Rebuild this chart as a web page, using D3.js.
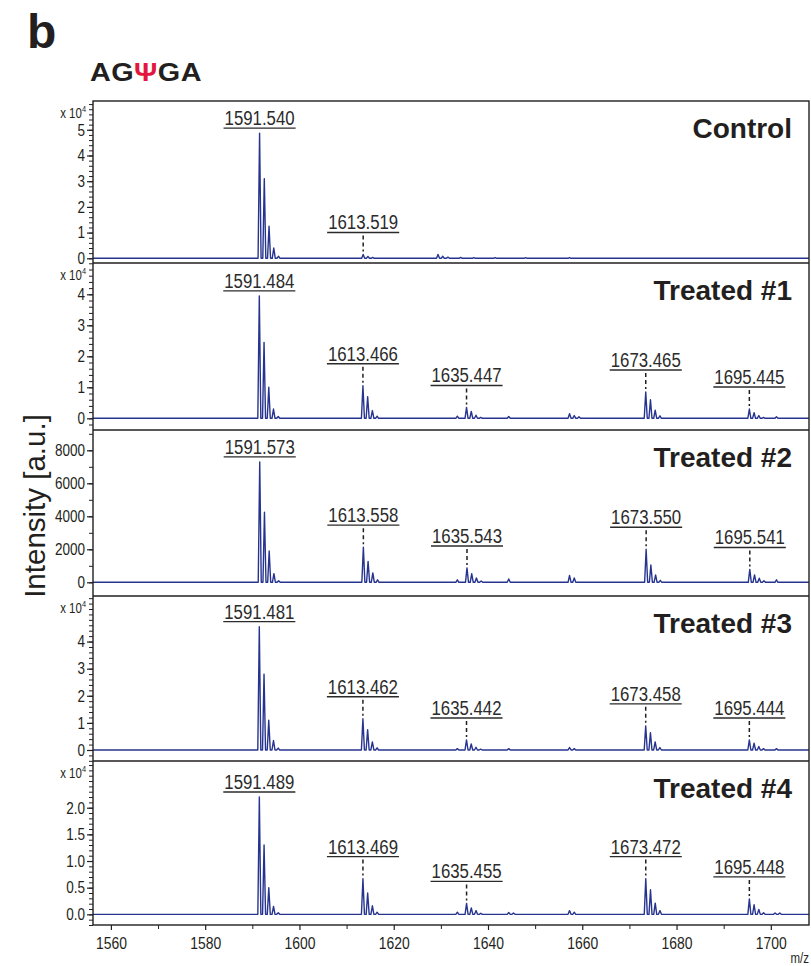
<!DOCTYPE html>
<html>
<head>
<meta charset="utf-8">
<script src="https://cdn.jsdelivr.net/npm/d3@7"></script>
<style>
  html, body { margin: 0; padding: 0; background: #fff; }
  svg { display: block; }
  .narrow, .sans { font-family: "Liberation Sans", Arial, sans-serif; }
</style>
</head>
<body>
<svg id="chart" width="811" height="966"></svg>
<script>
// ---------------- data ----------------
const sampleNames = ["Control", "Treated #1", "Treated #2", "Treated #3", "Treated #4"];

// labelled isotope clusters: [monoisotopic m/z, intensities of the isotope peaks]
const controlClusters = [
  [1591.540, [48700, 31000, 12500, 4000, 800]],
  [1613.519, [1500, 750, 350]]
];
const treated1Clusters = [
  [1591.484, [39500, 24500, 10000, 3000, 600]],
  [1613.466, [10500, 7000, 2500, 700]],
  [1635.447, [3500, 2200, 1000, 300]],
  [1673.465, [8500, 6000, 2600, 800]],
  [1695.445, [3000, 1800, 900, 300]]
];
const treated2Clusters = [
  [1591.573, [7300, 4250, 1900, 520, 100]],
  [1613.558, [2130, 1270, 570, 150]],
  [1635.543, [870, 525, 260, 80]],
  [1673.550, [2000, 1050, 450, 120]],
  [1695.541, [780, 450, 250, 100]]
];
const treated3Clusters = [
  [1591.481, [45500, 28000, 11000, 3500, 700]],
  [1613.462, [11500, 7500, 3000, 800]],
  [1635.442, [3700, 2200, 1000, 300]],
  [1673.458, [8900, 6400, 3000, 900]],
  [1695.444, [3700, 2500, 1300, 500]]
];
const treated4Clusters = [
  [1591.489, [22000, 13000, 5000, 1500, 300]],
  [1613.469, [6700, 4000, 1600, 400]],
  [1635.455, [2050, 1200, 700, 200]],
  [1673.472, [6700, 4600, 2100, 700]],
  [1695.448, [2900, 1800, 900, 300]]
];

// small unlabelled signals: [m/z, intensity]
const controlMinor = [[1629.4, 1500], [1630.4, 800], [1631.5, 450], [1634.2, 350], [1637.0, 300], [1641.5, 300], [1648.0, 250], [1657.3, 300]];
const treated1Minor = [[1633.5, 700], [1644.4, 600], [1657.3, 1500], [1658.3, 900], [1659.3, 500], [1701.2, 500]];
const treated2Minor = [[1633.5, 150], [1644.4, 200], [1657.3, 420], [1658.3, 260], [1701.2, 150]];
const treated3Minor = [[1633.5, 500], [1644.4, 500], [1657.3, 900], [1658.3, 500], [1701.2, 500]];
const treated4Minor = [[1633.5, 400], [1644.4, 350], [1645.4, 250], [1657.3, 700], [1658.3, 400], [1700.9, 250], [1701.9, 250]];

// axis ranges and ticks
const mzDomain = [1556.2, 1708.1];
const mzTicks = [1560, 1580, 1600, 1620, 1640, 1660, 1680, 1700];
const mzMinorTicks = [1570, 1590, 1610, 1630, 1650, 1670, 1690];

const yDomainControl = [-1830, 61200];
const yDomainTreated1 = [-3770, 50100];
const yDomainTreated2 = [-830, 9230];
const yDomainTreated3 = [-4060, 56800];
const yDomainTreated4 = [-2000, 28760];

const yTicksControl = [0, 10000, 20000, 30000, 40000, 50000];
const yTicksTreated1 = [0, 10000, 20000, 30000, 40000];
const yTicksTreated2 = [0, 2000, 4000, 6000, 8000];
const yTicksTreated3 = [0, 10000, 20000, 30000, 40000];
const yTicksTreated4 = [0, 5000, 10000, 15000, 20000];

const yMinorStep = [2000, 2000, 1000, 2000, 1000];
const yTickLabelStyle = ["e4", "e4", "raw", "e4", "e4dec"];

// ---------------- drawing ----------------
const panels = [
  { name: sampleNames[0], clusters: controlClusters, minor: controlMinor, domain: yDomainControl, ticks: yTicksControl },
  { name: sampleNames[1], clusters: treated1Clusters, minor: treated1Minor, domain: yDomainTreated1, ticks: yTicksTreated1 },
  { name: sampleNames[2], clusters: treated2Clusters, minor: treated2Minor, domain: yDomainTreated2, ticks: yTicksTreated2 },
  { name: sampleNames[3], clusters: treated3Clusters, minor: treated3Minor, domain: yDomainTreated3, ticks: yTicksTreated3 },
  { name: sampleNames[4], clusters: treated4Clusters, minor: treated4Minor, domain: yDomainTreated4, ticks: yTicksTreated4 }
];

const svg = d3.select("#chart");
const ink = "#231f20";
const traceColor = "#27348f";
const frameLeft = 93, frameRight = 809;
const panelEdges = [101, 263, 430, 596, 761, 925];
const isotopeSpacing = 1.003;
const peakHalfWidth = 0.32;
const squeeze = 0.82;   // horizontal compression for the narrow numeric labels

// compress text horizontally about its own x anchor
function condense(sel) {
  sel.each(function () {
    const t = d3.select(this);
    const ax = +t.attr("x") || 0;
    t.attr("transform", `translate(${ax},0) scale(${squeeze},1) translate(${-ax},0)`);
  });
}

const x = d3.scaleLinear().domain(mzDomain).range([frameLeft, frameRight]);

// header
svg.append("text").attr("class", "sans")
  .attr("x", 27).attr("y", 48)
  .attr("font-size", 48).attr("font-weight", "bold").attr("fill", ink)
  .text("b");

// sequence name, set in a slightly extended bold face
const seq = svg.append("text").attr("class", "sans")
  .attr("transform", "translate(90,81) scale(1.13,1)")
  .attr("font-size", 25.5).attr("font-weight", "bold").attr("fill", ink)
  .attr("letter-spacing", 0.4);
seq.append("tspan").text("AG");
seq.append("tspan").attr("fill", "#e3173e").text("\u03A8");
seq.append("tspan").text("GA");

// y axis title
svg.append("text").attr("class", "sans")
  .attr("transform", "translate(45,506) rotate(-90)")
  .attr("text-anchor", "middle")
  .attr("font-size", 29.5).attr("fill", ink)
  .text("Intensity [a.u.]");

const defs = svg.append("defs");

panels.forEach((p, i) => {
  const top = panelEdges[i], bottom = panelEdges[i + 1];
  const y = d3.scaleLinear().domain(p.domain).range([bottom, top]);
  const g = svg.append("g");

  defs.append("clipPath").attr("id", "clip" + i)
    .append("rect")
    .attr("x", frameLeft).attr("y", top)
    .attr("width", frameRight - frameLeft).attr("height", bottom - top);

  // stick list -> spectrum trace
  const sticks = [];
  p.clusters.forEach(([mono, hs]) => {
    hs.forEach((h, k) => sticks.push([mono + k * isotopeSpacing, h]));
  });
  p.minor.forEach(d => sticks.push(d));
  sticks.sort((a, b) => a[0] - b[0]);
  const pts = [[mzDomain[0], 0]];
  sticks.forEach(([m, h]) => {
    pts.push([m - peakHalfWidth, 0], [m, h], [m + peakHalfWidth, 0]);
  });
  pts.push([mzDomain[1], 0]);

  const line = d3.line().x(d => x(d[0])).y(d => y(d[1]));
  g.append("path")
    .attr("clip-path", "url(#clip" + i + ")")
    .attr("d", line(pts))
    .attr("fill", "none")
    .attr("stroke", traceColor)
    .attr("stroke-width", 1.4)
    .attr("stroke-linejoin", "round");

  // y axis: major and minor ticks
  const style = yTickLabelStyle[i];
  const fmt = style === "raw" ? (v => d3.format("d")(v))
    : style === "e4dec" ? (v => d3.format(".1f")(v / 1e4))
    : (v => d3.format("d")(v / 1e4));
  const minorVals = d3.range(Math.ceil(p.domain[0] / yMinorStep[i]) * yMinorStep[i], p.domain[1], yMinorStep[i]);

  const minorAxis = g.append("g").attr("transform", `translate(${frameLeft},0)`)
    .call(d3.axisLeft(y).tickValues(minorVals).tickSize(4).tickSizeOuter(0).tickFormat(""));
  minorAxis.select(".domain").remove();
  minorAxis.selectAll("line").attr("stroke", ink).attr("stroke-width", 1);

  const majorAxis = g.append("g").attr("transform", `translate(${frameLeft},0)`)
    .call(d3.axisLeft(y).tickValues(p.ticks).tickSize(6).tickPadding(2).tickSizeOuter(0).tickFormat(fmt));
  majorAxis.select(".domain").remove();
  majorAxis.selectAll("line").attr("stroke", ink).attr("stroke-width", 1.2);
  majorAxis.selectAll("text")
    .attr("class", "narrow")
    .attr("font-size", 16.5)
    .attr("fill", ink)
    .call(condense);

  // exponent marker
  if (style !== "raw") {
    const ex = g.append("text").attr("class", "narrow")
      .attr("x", 86).attr("y", top + 17.5)
      .attr("text-anchor", "end")
      .attr("font-size", 14).attr("fill", ink);
    ex.append("tspan").text("x 10");
    ex.append("tspan").attr("font-size", 9).attr("dy", -6).text("4");
    condense(ex);
  }

  // sample name
  g.append("text").attr("class", "sans")
    .attr("x", 792).attr("y", top + 37)
    .attr("text-anchor", "end")
    .attr("font-size", 28).attr("font-weight", "bold").attr("fill", ink)
    .text(p.name);

  // peak annotations
  p.clusters.forEach(([mono, hs], k) => {
    const cx = x(mono);
    const peakTop = y(d3.max(hs));
    const gap = k === 0 ? 5 : 22;
    const ul = peakTop - gap;
    const t = g.append("text").attr("class", "narrow")
      .attr("x", cx).attr("y", ul - 3)
      .attr("text-anchor", "middle")
      .attr("font-size", 20.5).attr("fill", "#2b2b2b")
      .text(d3.format(".3f")(mono));
    condense(t);
    const w = t.node().getComputedTextLength() * squeeze;
    g.append("line")
      .attr("x1", cx - w / 2 - 1).attr("x2", cx + w / 2 + 1)
      .attr("y1", ul).attr("y2", ul)
      .attr("stroke", "#2b2b2b").attr("stroke-width", 1.4);
    if (k > 0) {
      g.append("line")
        .attr("x1", cx).attr("x2", cx)
        .attr("y1", ul + 3).attr("y2", peakTop - 3)
        .attr("stroke", ink).attr("stroke-width", 1.5)
        .attr("stroke-dasharray", "4,3");
    }
  });
});

// frame and panel dividers
svg.append("rect")
  .attr("x", frameLeft).attr("y", panelEdges[0])
  .attr("width", frameRight - frameLeft).attr("height", panelEdges[5] - panelEdges[0])
  .attr("fill", "none").attr("stroke", ink).attr("stroke-width", 1.4);
panelEdges.slice(1, 5).forEach(e => {
  svg.append("line")
    .attr("x1", frameLeft).attr("x2", frameRight)
    .attr("y1", e).attr("y2", e)
    .attr("stroke", ink).attr("stroke-width", 1.4);
});

// m/z axis
const xBottom = panelEdges[5];
const xMinor = svg.append("g").attr("transform", `translate(0,${xBottom})`)
  .call(d3.axisBottom(x).tickValues(mzMinorTicks).tickSize(4).tickSizeOuter(0).tickFormat(""));
xMinor.select(".domain").remove();
xMinor.selectAll("line").attr("stroke", ink);

const xMajor = svg.append("g").attr("transform", `translate(0,${xBottom})`)
  .call(d3.axisBottom(x).tickValues(mzTicks).tickSize(5).tickPadding(7).tickSizeOuter(0).tickFormat(d3.format("d")));
xMajor.select(".domain").remove();
xMajor.selectAll("line").attr("stroke", ink).attr("stroke-width", 1.2);
xMajor.selectAll("text").attr("class", "narrow").attr("font-size", 17).attr("fill", ink).call(condense);

const mzLabel = svg.append("text").attr("class", "narrow")
  .attr("x", 809).attr("y", 963)
  .attr("text-anchor", "end")
  .attr("font-size", 14).attr("fill", ink)
  .text("m/z");
condense(mzLabel);
</script>
</body>
</html>
